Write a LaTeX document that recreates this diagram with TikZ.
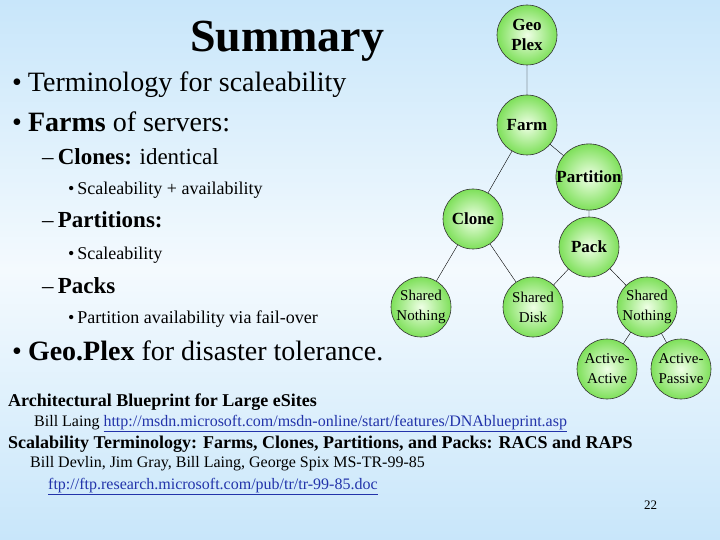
\documentclass[tikz,border=0pt]{standalone}
\usepackage{fontspec}
\setmainfont{Liberation Serif}
\definecolor{bgtop}{HTML}{C8E6FA}
\definecolor{bgmid}{HTML}{F4FAFE}
\definecolor{green1}{HTML}{EFFFE6}
\definecolor{green2}{HTML}{7EE05A}
\definecolor{linkc}{HTML}{2233AA}
\begin{document}
\begin{tikzpicture}[x=1pt,y=-1pt,
  ball/.style={circle,draw=black!80,semithick,minimum size=60pt,inner sep=0pt,inner color=green1,outer color=green2,align=center,font=\fontsize{17}{17}\selectfont\bfseries,execute at begin node=\setlength{\baselineskip}{20pt}},
  sball/.style={ball,font=\fontsize{15}{15}\selectfont},
  txt/.style={anchor=base west,inner sep=0pt},
  edge/.style={draw=black,thin}]
\useasboundingbox (0,0) rectangle (720,540);
\shade[top color=bgtop,bottom color=bgmid] (0,0) rectangle (720,270);
\shade[top color=bgmid,bottom color=bgtop] (0,270) rectangle (720,540);
\node[txt,font=\fontsize{46}{46}\selectfont\bfseries] (title) at (190,52) {Summary};
\node[txt,font=\fontsize{28}{28}\selectfont] (b1) at (12,92) {•\hspace{6pt}Terminology for scaleability};
\node[txt,font=\fontsize{28}{28}\selectfont] (b2) at (12,132) {•\hspace{6pt}\textbf{Farms} of servers:};
\node[txt,font=\fontsize{23}{23}\selectfont] (c1) at (42,165) {–\hspace{4pt}\textbf{Clones:} identical};
\node[txt,font=\fontsize{18}{18}\selectfont] (d1) at (68,195) {•\hspace{3pt}Scaleability + availability};
\node[txt,font=\fontsize{23}{23}\selectfont] (c2) at (42,228) {–\hspace{4pt}\textbf{Partitions:}};
\node[txt,font=\fontsize{18}{18}\selectfont] (d2) at (68,259) {•\hspace{3pt}Scaleability};
\node[txt,font=\fontsize{23}{23}\selectfont] (c3) at (42,293) {–\hspace{4pt}\textbf{Packs}};
\node[txt,font=\fontsize{18}{18}\selectfont] (d3) at (68,323) {•\hspace{3pt}Partition availability via fail-over};
\node[txt,font=\fontsize{28}{28}\selectfont] (b3) at (12,360) {•\hspace{6pt}\textbf{Geo.Plex} for disaster tolerance.};
\node[txt,font=\fontsize{18}{18}\selectfont\bfseries] (r1) at (8,406) {Architectural Blueprint for Large eSites};
\node[txt,font=\fontsize{16}{16}\selectfont] (r2) at (34,426) {Bill Laing \textcolor{linkc}{\underline{http://msdn.microsoft.com/msdn-online/start/features/DNAblueprint.asp}}};
\node[txt,font=\fontsize{18}{18}\selectfont\bfseries] (r3) at (8,448) {Scalability Terminology: Farms, Clones, Partitions, and Packs: RACS and RAPS};
\node[txt,font=\fontsize{16}{16}\selectfont] (r4) at (30,467) {Bill Devlin, Jim Gray, Bill Laing, George Spix MS-TR-99-85};
\node[txt,font=\fontsize{16}{16}\selectfont] (r5) at (48,489) {\textcolor{linkc}{\underline{ftp://ftp.research.microsoft.com/pub/tr/tr-99-85.doc}}};
\node[txt,font=\fontsize{13}{13}\selectfont] (pg) at (644,509) {22};
% tree
\coordinate (pgeo) at (527,35);
\coordinate (pfarm) at (527,125);
\coordinate (ppart) at (589,177);
\coordinate (pclone) at (473,219);
\coordinate (ppack) at (589,247);
\coordinate (psn1) at (421,307);
\coordinate (psd) at (533,307);
\coordinate (psn2) at (647,307);
\coordinate (paa) at (607,369);
\coordinate (pap) at (681,369);
\draw[edge] (pgeo)--(pfarm) (pfarm)--(pclone) (pfarm)--(ppart) (ppart)--(ppack)
  (pclone)--(psn1) (pclone)--(psd) (ppack)--(psd) (ppack)--(psn2) (psn2)--(paa) (psn2)--(pap);
\node[ball] (geo) at (pgeo) {Geo\\Plex};
\node[ball] (farm) at (pfarm) {Farm};
\node[ball] (part) at (ppart) {Partition};
\node[ball] (clone) at (pclone) {Clone};
\node[ball] (pack) at (ppack) {Pack};
\node[sball] (sn1) at (psn1) {Shared\\Nothing};
\node[sball] (sd) at (psd) {Shared\\Disk};
\node[sball] (sn2) at (psn2) {Shared\\Nothing};
\node[sball] (aa) at (paa) {Active-\\Active};
\node[sball] (ap) at (pap) {Active-\\Passive};
\end{tikzpicture}
\end{document}
